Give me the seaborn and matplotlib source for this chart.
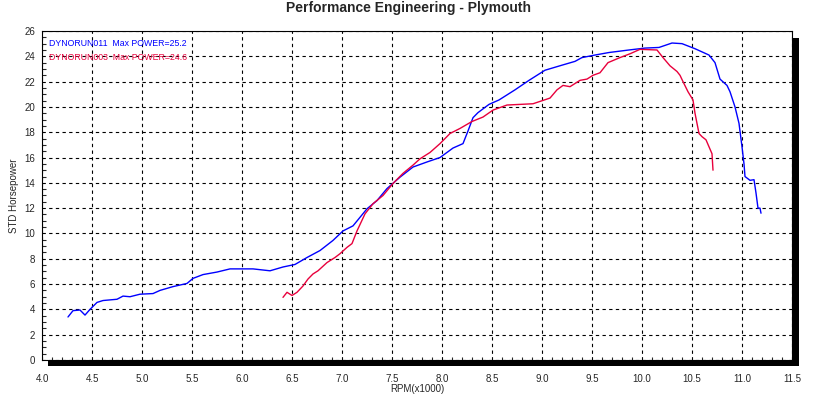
import numpy as np
import pandas as pd
import matplotlib
matplotlib.use("Agg")
import matplotlib.pyplot as plt
from matplotlib.patches import Rectangle
from matplotlib.ticker import MultipleLocator, FormatStrFormatter
import seaborn as sns

# run 011 (blue)
rpm_011 = [4.26, 4.31, 4.38, 4.43, 4.48, 4.55, 4.61, 4.75, 4.81, 4.88, 4.98, 5.11,
           5.18, 5.31, 5.45, 5.51, 5.61, 5.75, 5.88, 6.11, 6.28, 6.41, 6.53, 6.65,
           6.78, 6.91, 7.01, 7.11, 7.25, 7.35, 7.45, 7.58, 7.71, 7.85, 7.98, 8.11,
           8.21, 8.26, 8.31, 8.36, 8.47, 8.57, 8.73, 8.87, 9.03, 9.2, 9.33, 9.4,
           9.53, 9.67, 9.87, 10.03, 10.17, 10.3, 10.4, 10.53, 10.67, 10.73, 10.78,
           10.85, 10.88, 10.93, 10.97, 11.0, 11.02, 11.03, 11.08, 11.12, 11.14,
           11.16, 11.18, 11.19]
hp_011 = [3.4, 3.9, 3.95, 3.55, 4.0, 4.55, 4.7, 4.8, 5.05, 5.0, 5.2, 5.25,
          5.5, 5.8, 6.05, 6.45, 6.75, 6.95, 7.2, 7.2, 7.05, 7.35, 7.55, 8.1,
          8.65, 9.45, 10.2, 10.6, 11.95, 12.6, 13.55, 14.45, 15.25, 15.65, 16.0, 16.75,
          17.1, 18.1, 19.15, 19.55, 20.2, 20.55, 21.35, 22.1, 22.9, 23.3, 23.6, 23.9,
          24.1, 24.3, 24.5, 24.65, 24.7, 25.05, 25.0, 24.6, 24.1, 23.5, 22.2,
          21.7, 21.2, 20.0, 18.7, 16.85, 15.5, 14.5, 14.2, 14.25, 13.2,
          12.0, 12.0, 11.6]

# run 003 (red)
rpm_003 = [6.41, 6.45, 6.5, 6.55, 6.61, 6.66, 6.71, 6.76, 6.85, 6.93, 6.98, 7.05,
           7.1, 7.15, 7.23, 7.31, 7.41, 7.51, 7.61, 7.71, 7.78, 7.88, 7.98, 8.08,
           8.18, 8.3, 8.41, 8.51, 8.65, 8.91, 9.08, 9.15, 9.21, 9.28, 9.38, 9.45,
           9.51, 9.58, 9.66, 9.78, 9.88, 9.98, 10.15, 10.21, 10.28, 10.35, 10.38,
           10.41, 10.46, 10.51, 10.53, 10.57, 10.6, 10.64, 10.7, 10.71]
hp_003 = [4.95, 5.35, 5.1, 5.35, 5.85, 6.4, 6.8, 7.05, 7.7, 8.1, 8.4, 8.9,
          9.2, 10.2, 11.55, 12.35, 13.0, 13.95, 14.75, 15.4, 15.9, 16.4, 17.1, 17.9,
          18.3, 18.85, 19.2, 19.75, 20.15, 20.25, 20.7, 21.35, 21.7, 21.6, 22.1, 22.2,
          22.5, 22.7, 23.5, 23.9, 24.2, 24.55, 24.5, 23.9, 23.25, 22.8, 22.5,
          22.0, 21.2, 20.55, 19.5, 17.9, 17.65, 17.4, 16.3, 15.0]

run_names = ["DYNORUN011  Max POWER=25.2", "DYNORUN003  Max POWER=24.6"]
run_colors = ["#0000ff", "#e8003c"]

df = pd.concat([
    pd.DataFrame({"rpm": rpm_011, "hp": hp_011, "run": run_names[0]}),
    pd.DataFrame({"rpm": rpm_003, "hp": hp_003, "run": run_names[1]}),
])

sns.set_style("white")
plt.rcParams["font.family"] = ["Liberation Sans", "DejaVu Sans"]

W, H = 817, 398
fig = plt.figure(figsize=(W / 100, H / 100), dpi=100)
left, right, top, bottom = 42, 792, 31, 360
ax = fig.add_axes([left / W, 1 - bottom / H, (right - left) / W, (bottom - top) / H])
ax.set_zorder(1)

# drop shadow behind the plot area
fig.patches.append(Rectangle(((left + 6) / W, 1 - (bottom + 6) / H),
                             (right - left + 1) / W, (bottom - top - 1) / H,
                             transform=fig.transFigure, facecolor="black",
                             edgecolor="none", zorder=0))

for name, color in zip(run_names, run_colors):
    sns.lineplot(data=df[df["run"] == name], x="rpm", y="hp", sort=False,
                 estimator=None, color=color, linewidth=1.0, ax=ax, legend=False)

ax.set_xlim(4.0, 11.5)
ax.set_ylim(0, 26)
ax.xaxis.set_major_locator(MultipleLocator(0.5))
ax.xaxis.set_minor_locator(MultipleLocator(0.1))
ax.yaxis.set_major_locator(MultipleLocator(2))
ax.yaxis.set_minor_locator(MultipleLocator(0.5))
ax.xaxis.set_major_formatter(FormatStrFormatter("%.1f"))
ax.tick_params(axis="x", which="major", length=0, labelsize=7, pad=10)
ax.tick_params(axis="x", which="minor", direction="in", length=2.5, width=0.8, bottom=True)
ax.tick_params(axis="y", which="major", direction="out", length=3, width=0.8, labelsize=7, pad=2)
ax.tick_params(axis="y", which="minor", direction="in", length=3, width=0.8, left=True)

ax.grid(True, which="major", color="black", linestyle=(0, (3, 3)), linewidth=0.8)
for s in ax.spines.values():
    s.set_color("black")
    s.set_linewidth(0.8)

ax.set_xlabel("RPM(x1000)", fontsize=7, labelpad=0)
ax.set_ylabel("STD Horsepower", fontsize=7, labelpad=4)

for i, (name, color) in enumerate(zip(run_names, run_colors)):
    ax.text(49 / W, 1 - (44 + 13.5 * i) / H, name, transform=fig.transFigure,
            color=color, fontsize=6.3, va="center", ha="left")

fig.text(0.5, 1 - 8 / H, "Performance Engineering - Plymouth", ha="center",
         va="center", fontsize=10, fontweight="bold")

fig.savefig("out.png", dpi=100)
